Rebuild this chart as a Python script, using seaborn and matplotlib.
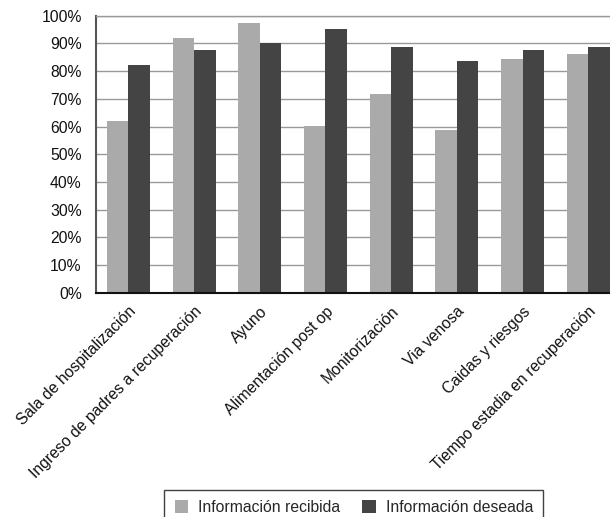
import seaborn as sns
import numpy as np
import pandas as pd
import matplotlib.pyplot as plt
from matplotlib.ticker import PercentFormatter

categorias = ['Sala de hospitalización', 'Ingreso de padres a recuperación', 'Ayuno',
              'Alimentación post op', 'Monitorización', 'Via venosa',
              'Caidas y riesgos', 'Tiempo estadia en recuperación']
recibida = [62.0, 92.0, 97.4, 60.2, 71.6, 58.7, 84.3, 86.2]
deseada = [82.2, 87.6, 90.1, 95.1, 88.7, 83.7, 87.6, 88.7]
series = ['Información recibida', 'Información deseada']

df = pd.DataFrame({
    'cat': categorias * 2,
    'valor': recibida + deseada,
    'serie': [series[0]] * len(categorias) + [series[1]] * len(categorias),
})

sns.set_style('white')
plt.rcParams['font.family'] = ['Liberation Sans', 'DejaVu Sans']

fig = plt.figure(figsize=(6.1, 5.17), dpi=100)
ax = fig.add_axes([0.1566, 0.4338, 0.8434, 0.5358])

sns.barplot(data=df, x='cat', y='valor', hue='serie', order=categorias, hue_order=series,
            palette=['#aaaaaa', '#444444'], width=0.655, gap=0, saturation=1,
            linewidth=0, ax=ax, legend=True)

ax.set_ylim(0, 100)
ax.set_xlim(-0.5, 7.33)
ax.set_yticks(np.arange(0, 101, 10))
ax.yaxis.set_major_formatter(PercentFormatter(decimals=0))
ax.grid(axis='y', color='#999999', linewidth=1)
ax.set_axisbelow(True)
ax.set_xlabel('')
ax.set_ylabel('')

ax.spines['right'].set_visible(False)
ax.spines['top'].set_color('#999999')
ax.spines['top'].set_linewidth(1)
ax.spines['left'].set_color('#555555')
ax.spines['left'].set_linewidth(1.5)
ax.spines['bottom'].set_color('#111111')
ax.spines['bottom'].set_linewidth(1.5)

ax.tick_params(axis='both', length=0, labelsize=11.3, colors='#111111')
ax.tick_params(axis='y', pad=10)
ax.tick_params(axis='x', pad=8)
plt.setp(ax.get_xticklabels(), rotation=45, ha='right', rotation_mode='anchor')

handles, labels = ax.get_legend_handles_labels()
ax.get_legend().remove()
leg = fig.legend(handles, labels, loc='upper center', bbox_to_anchor=(0.58, 0.053), ncol=2,
                 fontsize=11.3, frameon=True, fancybox=False, handlelength=0.85, handleheight=0.85,
                 handletextpad=0.65, columnspacing=1.4, borderpad=0.65, borderaxespad=0)
leg.get_frame().set_edgecolor('#111111')
leg.get_frame().set_linewidth(1)

fig.savefig('out.png', dpi=100)
